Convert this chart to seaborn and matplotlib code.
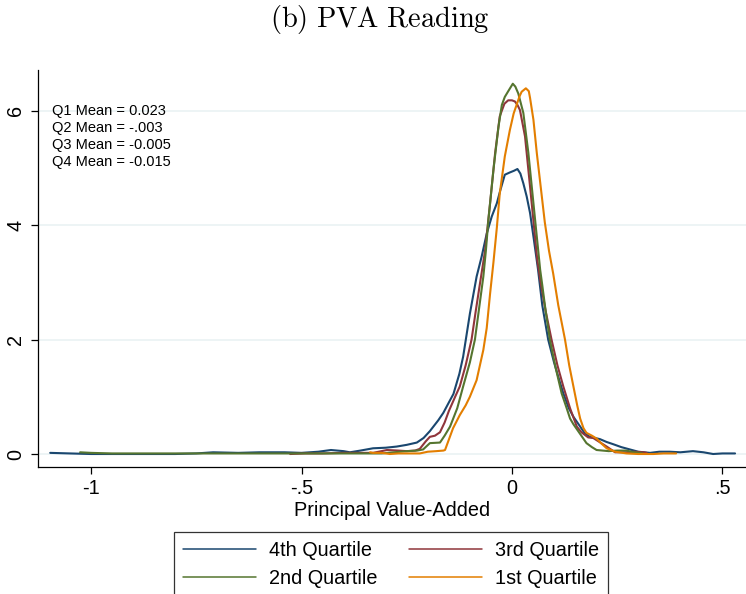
import numpy as np
import pandas as pd
import matplotlib
matplotlib.use("Agg")
import matplotlib.pyplot as plt
from matplotlib.lines import Line2D
import seaborn as sns

# ---- data ----
q4_x = [-1.097, -1.05, -1.0, -0.9, -0.8, -0.75, -0.71, -0.65, -0.6, -0.54, -0.5, -0.46, -0.43, -0.40,
        -0.385, -0.36, -0.33, -0.30, -0.274, -0.25, -0.226, -0.21, -0.195, -0.175, -0.163, -0.15,
        -0.139, -0.125, -0.116, -0.10, -0.084, -0.072, -0.06, -0.048, -0.036, -0.028, -0.017,
        -0.005, 0.005, 0.013, 0.02, 0.027, 0.035, 0.043, 0.052, 0.062, 0.072, 0.086, 0.10, 0.114,
        0.122, 0.135, 0.146, 0.162, 0.173, 0.185, 0.209, 0.225, 0.241, 0.26, 0.28, 0.30, 0.328,
        0.35, 0.375, 0.40, 0.43, 0.455, 0.478, 0.50, 0.53]
q4_y = [0.02, 0.01, 0.0, 0.0, 0.0, 0.01, 0.03, 0.02, 0.03, 0.03, 0.02, 0.04, 0.07, 0.05,
        0.03, 0.06, 0.10, 0.11, 0.13, 0.16, 0.20, 0.28, 0.40, 0.59, 0.72, 0.90,
        1.05, 1.40, 1.70, 2.45, 3.10, 3.45, 3.85, 4.15, 4.38, 4.60, 4.88,
        4.92, 4.95, 4.98, 4.90, 4.73, 4.50, 4.21, 3.75, 3.22, 2.60, 2.00, 1.60, 1.25,
        1.06, 0.80, 0.65, 0.48, 0.36, 0.30, 0.26, 0.21, 0.17, 0.12, 0.08, 0.04, 0.02,
        0.04, 0.04, 0.03, 0.05, 0.03, 0.0, 0.01, 0.01]

q3_x = [-0.527, -0.49, -0.45, -0.40, -0.36, -0.33, -0.31, -0.297, -0.27, -0.25, -0.23, -0.219,
        -0.205, -0.195, -0.183, -0.171, -0.16, -0.15, -0.135, -0.124, -0.11, -0.096, -0.086,
        -0.076, -0.064, -0.052, -0.04, -0.029, -0.018, -0.009, 0.0, 0.007, 0.013, 0.019, 0.031,
        0.043, 0.052, 0.06, 0.068, 0.08, 0.094, 0.108, 0.122, 0.138, 0.154, 0.165, 0.181, 0.193,
        0.21, 0.225, 0.245, 0.27, 0.29, 0.312, 0.32]
q3_y = [0.0, 0.01, 0.01, 0.02, 0.02, 0.02, 0.05, 0.07, 0.06, 0.05, 0.06, 0.09,
        0.22, 0.30, 0.32, 0.38, 0.55, 0.75, 1.0, 1.18, 1.55, 2.0, 2.5,
        2.98, 3.55, 4.38, 5.26, 5.90, 6.12, 6.18, 6.18, 6.16, 6.10, 6.01, 5.55,
        4.67, 4.0, 3.40, 3.0, 2.5, 2.0, 1.55, 1.18, 0.80, 0.48, 0.38, 0.29, 0.28,
        0.20, 0.13, 0.03, 0.03, 0.04, 0.03, 0.02]

q2_x = [-1.026, -1.0, -0.95, -0.9, -0.8, -0.7, -0.6, -0.5, -0.4, -0.31, -0.28, -0.25, -0.225,
        -0.211, -0.195, -0.171, -0.16, -0.147, -0.13, -0.116, -0.10, -0.088, -0.078, -0.068,
        -0.062, -0.056, -0.044, -0.032, -0.024, -0.017, -0.008, 0.002, 0.008, 0.015, 0.027,
        0.039, 0.055, 0.067, 0.072, 0.08, 0.09, 0.104, 0.118, 0.13, 0.138, 0.146, 0.162, 0.177,
        0.19, 0.201, 0.23, 0.25, 0.272, 0.29, 0.304, 0.31]
q2_y = [0.03, 0.02, 0.01, 0.01, 0.01, 0.01, 0.01, 0.01, 0.01, 0.01, 0.03, 0.05, 0.06,
        0.08, 0.19, 0.20, 0.32, 0.48, 0.80, 1.18, 1.60, 2.0, 2.55, 3.10,
        3.55, 4.09, 4.97, 5.72, 6.10, 6.24, 6.35, 6.47, 6.42, 6.30, 5.96,
        5.26, 4.09, 3.22, 2.95, 2.5, 2.0, 1.5, 1.06, 0.80, 0.62, 0.52, 0.35, 0.19,
        0.12, 0.07, 0.05, 0.06, 0.06, 0.03, 0.02, 0.01]

q1_x = [-0.337, -0.33, -0.31, -0.29, -0.27, -0.25, -0.219, -0.2, -0.18, -0.163, -0.159, -0.15,
        -0.14, -0.124, -0.11, -0.10, -0.084, -0.068, -0.06, -0.052, -0.044, -0.036, -0.029,
        -0.017, -0.005, 0.004, 0.011, 0.018, 0.023, 0.033, 0.04, 0.043, 0.051, 0.059, 0.067,
        0.078, 0.088, 0.098, 0.11, 0.126, 0.136, 0.146, 0.155, 0.162, 0.17, 0.177, 0.19, 0.201,
        0.213, 0.225, 0.245, 0.272, 0.30, 0.336, 0.36, 0.383, 0.39]
q1_y = [0.03, 0.02, 0.02, 0.0, 0.01, 0.01, 0.01, 0.04, 0.05, 0.06, 0.07, 0.25,
        0.45, 0.68, 0.85, 1.0, 1.29, 1.82, 2.2, 2.8, 3.35, 3.95, 4.55,
        5.20, 5.66, 5.95, 6.10, 6.25, 6.33, 6.39, 6.34, 6.22, 5.84, 5.26, 4.75,
        4.05, 3.55, 3.15, 2.6, 2.0, 1.55, 1.18, 0.85, 0.62, 0.45, 0.37, 0.32, 0.27,
        0.18, 0.10, 0.04, 0.01, 0.0, 0.0, 0.01, 0.01, 0.01]

groups = ["4th Quartile", "3rd Quartile", "2nd Quartile", "1st Quartile"]
colors = ["#1a476f", "#90353b", "#55752f", "#e37e00"]
annot_lines = ["Q1 Mean = 0.023", "Q2 Mean = -.003", "Q3 Mean = -0.005", "Q4 Mean = -0.015"]
x_ticks = [-1, -0.5, 0, 0.5]
x_ticklabels = ["-1", "-.5", "0", ".5"]
y_ticks = [0, 2, 4, 6]
y_ticklabels = ["0", "2", "4", "6"]

frames = []
for g, xs, ys in zip(groups, [q4_x, q3_x, q2_x, q1_x], [q4_y, q3_y, q2_y, q1_y]):
    frames.append(pd.DataFrame({"x": xs, "density": ys, "group": g}))
df = pd.concat(frames, ignore_index=True)

sns.set_style("white")
plt.rcParams["font.family"] = ["Liberation Sans", "DejaVu Sans"]
plt.rcParams["mathtext.fontset"] = "cm"
for k in ["text.color", "axes.labelcolor", "xtick.color", "ytick.color"]:
    plt.rcParams[k] = "black"

fig = plt.figure(figsize=(7.46, 5.94), dpi=100)
ax = fig.add_axes([38 / 746, 127 / 594, 708 / 746, 397 / 594])

for yt in y_ticks:
    ax.axhline(yt, color="#eaf2f3", lw=1.2, zorder=0)

sns.lineplot(data=df, x="x", y="density", hue="group", hue_order=groups,
             palette=colors, estimator=None, sort=True, lw=1.5, legend=False, ax=ax)

ax.set_xlim(-1.126, 0.556)
ax.set_ylim(-0.227, 6.71)
ax.set_xticks(x_ticks)
ax.set_xticklabels(x_ticklabels)
ax.set_yticks(y_ticks)
ax.set_yticklabels(y_ticklabels, rotation=90, va="center")
ax.tick_params(axis="both", direction="out", length=5, width=0.9, color="black",
               labelcolor="black", labelsize=14.3, pad=4, left=True, bottom=True)
for s in ["top", "right"]:
    ax.spines[s].set_visible(False)
for s in ["left", "bottom"]:
    ax.spines[s].set_color("black")
    ax.spines[s].set_linewidth(0.9)
ax.set_xlabel("Principal Value-Added", fontsize=14.3, labelpad=2, color="black")
ax.set_ylabel("")
ax.grid(False)

ax.text((52 - 38) / 708, (467 - 104) / 397, "\n".join(annot_lines), transform=ax.transAxes,
        fontsize=10.5, va="top", ha="left", linespacing=1.27, color="black")

fig.text(380 / 746, 1 - 19 / 594, r"$\mathrm{(b)\ PVA\ Reading}$", ha="center", va="center",
         fontsize=20.5, color="black")

handles = [Line2D([0], [0], color=c, lw=1.1) for c in colors]
order = [0, 2, 1, 3]
leg = fig.legend([handles[i] for i in order], [groups[i] for i in order], ncol=2,
                 loc="upper center", bbox_to_anchor=(391 / 746, 1 - 532 / 594),
                 borderaxespad=0, fontsize=14.3, frameon=True, fancybox=False,
                 edgecolor="black", handlelength=3.7, handletextpad=0.65, columnspacing=1.55,
                 labelspacing=0.45, borderpad=0.45)
for t in leg.get_texts():
    t.set_color("black")
leg.get_frame().set_linewidth(0.9)

fig.savefig("out.png", dpi=100)
